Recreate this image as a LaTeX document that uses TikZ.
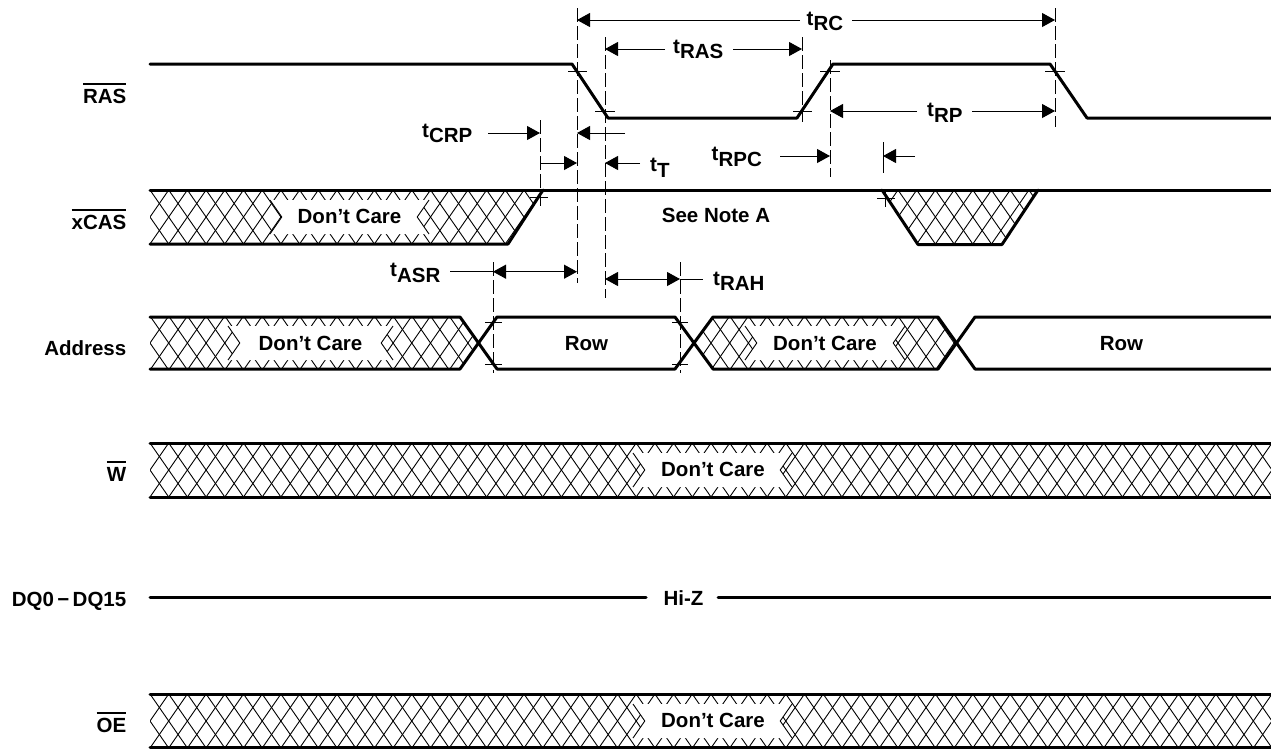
\documentclass[tikz,border=0pt]{standalone}
\usepackage{fontspec}
\setmainfont{Liberation Sans}
\usetikzlibrary{arrows.meta}
\newcommand\ovl[1]{\vbox{\hrule height 2pt\kern 4pt\hbox{#1}}}
\newcommand\tsub[1]{t\raisebox{-5.5pt}{#1}}
\newcommand\hatchband[2]{%
  \begin{scope}\clip #1;
  \foreach \k in {-3,...,63}{
    \draw[hatchln] ({150+18.7*\k-37.4},{#2-54}) -- ++(74.8,108);
    \draw[hatchln] ({150+18.7*\k-37.4},{#2+54}) -- ++(74.8,-108);
  }\end{scope}}
\newcommand\clearbox[5]{%
  \fill[white] (#1,#3) -- ({#1+(#5-#3)*0.6926},#5) -- (#1,#4) -- (#2,#4) -- ({#2-(#5-#3)*0.6926},#5) -- (#2,#3) -- cycle;
  \draw[hatchln] (#1,#3) -- ({#1+(#5-#3)*0.6926},#5) -- (#1,#4);
  \draw[hatchln] (#2,#3) -- ({#2-(#5-#3)*0.6926},#5) -- (#2,#4);}
\begin{document}
\begin{tikzpicture}[x=1pt,y=-1pt,
  font=\bfseries\fontsize{20.5pt}{24pt}\selectfont,
  sig/.style={line width=3pt,line join=round,line cap=round},
  hatchln/.style={line width=0.9pt},
  dim/.style={line width=1pt},
  tipr/.style={-{Triangle[length=13pt,width=14pt]}},
  tipb/.style={{Triangle[length=13pt,width=14pt]}-{Triangle[length=13pt,width=14pt]}},
  dline/.style={line width=0.9pt,dash pattern=on 14pt off 4pt},
  tickln/.style={line width=0.9pt},
  tlbl/.style={inner sep=0pt,anchor=base west},
  txt/.style={inner sep=0pt,anchor=base},
  sname/.style={inner sep=0pt,anchor=base east}]
\useasboundingbox (0,0) rectangle (1271,748);

% ---------- hatching ----------
\hatchband{(150,190) -- (543,190) -- (508,244) -- (150,244) -- cycle}{217}
\hatchband{(882,190) -- (1038,190) -- (1002,244.5) -- (918,244.5) -- cycle}{217}
\hatchband{(150,317) -- (460,317) -- (478,343) -- (460,369) -- (150,369) -- cycle}{343}
\hatchband{(695,343) -- (713,317) -- (938,317) -- (957,343) -- (938,369) -- (713,369) -- cycle}{343}
\hatchband{(150,443) -- (1275,443) -- (1275,497) -- (150,497) -- cycle}{470}
\hatchband{(150,694) -- (1275,694) -- (1275,750) -- (150,750) -- cycle}{721}

\clearbox{270}{429}{200}{234}{217}
\clearbox{228}{393}{326}{360}{343}
\clearbox{745}{905}{326}{360}{343}
\clearbox{633}{792}{453}{487}{470}
\clearbox{633}{792}{704}{738}{721}

% ---------- signal names ----------
\node[sname] (nRAS) at (126.5,103.3) {\ovl{RAS}};
\node[sname] (nCAS) at (126.5,229) {\ovl{xCAS}};
\node[sname] (nADR) at (126.5,355) {Address};
\node[sname] (nW) at (126.5,481) {\ovl{W}};
\node[sname] (nDQ) at (126.5,606.7) {DQ0\,−\,DQ15};
\node[sname] (nOE) at (126.5,732.7) {\ovl{OE}};

% ---------- in-band texts ----------
\node[txt] (dc1) at (349.5,223) {Don’t Care};
\node[txt] (note) at (716,222) {See Note A};
\node[txt] (dc2) at (310.5,350) {Don’t Care};
\node[txt] (row1) at (586.5,350) {Row};
\node[txt] (dc3) at (825,350) {Don’t Care};
\node[txt] (row2) at (1121.5,350) {Row};
\node[txt] (dc4) at (713,476) {Don’t Care};
\node[txt] (hiz) at (683.5,605) {Hi-Z};
\node[txt] (dc5) at (713,727) {Don’t Care};

% ---------- signals ----------
\draw[sig] (150,64) -- (572,64) -- (608,118) -- (797,118) -- (833,64) -- (1050,64) -- (1087,118) -- (1280,118);
\draw[sig] (150,190) -- (1280,190);
\draw[sig] (150,244) -- (508,244) -- (543,190);
\draw[sig] (882,190) -- (918,244.5) -- (1002,244.5) -- (1038,190);
\draw[sig] (150,317) -- (460,317) -- (497,369) -- (675,369) -- (713,317) -- (938,317) -- (975,369) -- (1280,369);
\draw[sig] (150,369) -- (460,369) -- (497,317) -- (675,317) -- (713,369) -- (938,369) -- (975,317) -- (1280,317);
\draw[sig] (150,443) -- (1280,443);
\draw[sig] (150,497) -- (1280,497);
\coordinate (dqA) at (150,597); \coordinate (dqB) at (646,597);
\coordinate (dqC) at (718,597); \coordinate (dqD) at (1280,597);
\draw[sig] (dqA) -- (dqB);
\draw[sig] (dqC) -- (dqD);
\draw[sig] (150,694) -- (1280,694);
\draw[sig] (150,747.5) -- (1280,747.5);

% ---------- guide lines ----------
\draw[dline] (577,8) -- (577,283);
\draw[dline] (605,37) -- (605,298);
\draw[dline] (802,37) -- (802,122);
\draw[dline] (830,60) -- (830,177);
\draw[dline] (1055,8) -- (1055,127);
\draw[dline] (540,120) -- (540,207);
\draw[dline] (493,262) -- (493,373);
\draw[dline] (680,262) -- (680,373);
\draw[tickln] (883,142) -- (883,173);
\draw[tickln] (885,192) -- (885,207);

% ticks
\draw[tickln] (568,71) -- (587,71);
\draw[tickln] (595,111) -- (615,111);
\draw[tickln] (793,111) -- (812,111);
\draw[tickln] (820,71) -- (840,71);
\draw[tickln] (1045,71) -- (1065,71);
\draw[tickln] (530,197) -- (548,197);
\draw[tickln] (877,198) -- (895,198);
\draw[tickln] (485,322) -- (502,322);
\draw[tickln] (485,364) -- (502,364);
\draw[tickln] (672,322) -- (688,322);
\draw[tickln] (672,364) -- (688,364);

% ---------- timing labels ----------
\node[tlbl] (lRC) at (806.5,25) {\tsub{RC}};
\node[tlbl] (lRAS) at (673,53) {\tsub{RAS}};
\node[tlbl] (lRP) at (927,116.5) {\tsub{RP}};
\node[tlbl] (lCRP) at (422,137) {\tsub{CRP}};
\node[tlbl] (lT) at (650,171.5) {\tsub{T}};
\node[tlbl] (lRPC) at (711.5,160.5) {\tsub{RPC}};
\node[tlbl] (lASR) at (390,276.5) {\tsub{ASR}};
\node[tlbl] (lRAH) at (713,285) {\tsub{RAH}};

% ---------- dimension arrows ----------
\coordinate (rcL) at (577,20); \coordinate (rcA) at (800,20);
\coordinate (rcB) at (852,20); \coordinate (rcR) at (1055,20);
\draw[dim,tipr] (rcA) -- (rcL);
\draw[dim,tipr] (rcB) -- (rcR);

\coordinate (rasL) at (605,49); \coordinate (rasA) at (665,49);
\coordinate (rasB) at (733,49); \coordinate (rasR) at (802,49);
\draw[dim,tipr] (rasA) -- (rasL);
\draw[dim,tipr] (rasB) -- (rasR);

\coordinate (rpL) at (830,111); \coordinate (rpA) at (917,111);
\coordinate (rpB) at (972,111); \coordinate (rpR) at (1055,111);
\draw[dim,tipr] (rpA) -- (rpL);
\draw[dim,tipr] (rpB) -- (rpR);

\coordinate (crpA) at (488,133); \coordinate (crpB) at (540,133);
\coordinate (crpC) at (577,133); \coordinate (crpD) at (625,133);
\draw[dim,tipr] (crpA) -- (crpB);
\draw[dim,tipr] (crpD) -- (crpC);
\coordinate (crpE) at (540,163); \coordinate (crpF) at (577,163);
\draw[dim,tipr] (crpE) -- (crpF);

\coordinate (tA) at (605,163); \coordinate (tB) at (640,163);
\draw[dim,tipr] (tB) -- (tA);

\coordinate (rpcA) at (780,156); \coordinate (rpcB) at (830,156);
\coordinate (rpcC) at (883,156); \coordinate (rpcD) at (915,156);
\draw[dim,tipr] (rpcA) -- (rpcB);
\draw[dim,tipr] (rpcD) -- (rpcC);

\coordinate (asrA) at (450,271.7); \coordinate (asrB) at (493,271.7);
\coordinate (asrC) at (577,271.7);
\draw[dim] (asrA) -- (asrB);
\draw[dim,tipb] (asrB) -- (asrC);

\coordinate (rahA) at (605,279); \coordinate (rahB) at (680,279);
\coordinate (rahC) at (703,279);
\draw[dim,tipb] (rahA) -- (rahB);
\draw[dim] (rahB) -- (rahC);
\end{tikzpicture}
\end{document}
